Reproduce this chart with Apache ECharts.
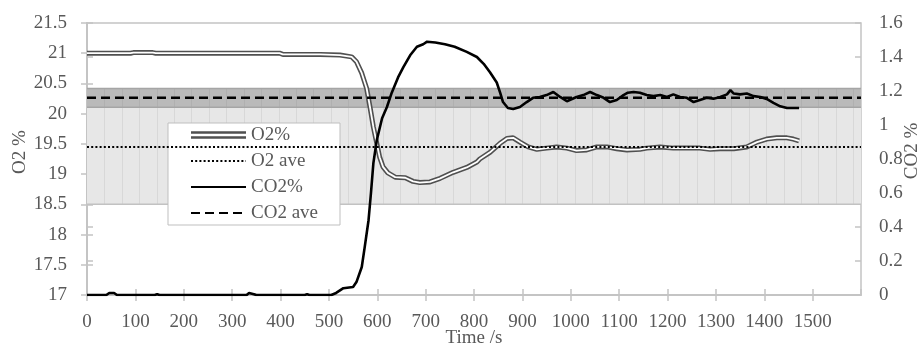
<!DOCTYPE html>
<html>
<head>
<meta charset="utf-8">
<script src="https://cdn.jsdelivr.net/npm/echarts@6/dist/echarts.min.js"></script>
<style>
  html, body { margin: 0; padding: 0; background: #fff; }
  #chart { width: 922px; height: 345px; }
</style>
</head>
<body>
<div id="chart"></div>
<script>
// Oxygen concentration (%) over time (s)
const o2Times = [0, 90, 96, 136, 142, 398, 405, 482, 523, 547, 557, 568, 578, 585, 592, 599, 605, 612, 622, 637, 658, 674, 688, 709, 730, 757, 785, 806, 812, 833, 854, 868, 881, 895, 912, 930, 950, 971, 992, 1012, 1033, 1054, 1075, 1095, 1116, 1143, 1157, 1185, 1212, 1240, 1267, 1288, 1309, 1337, 1364, 1385, 1405, 1426, 1447, 1460, 1472];
const o2Values = [21.00, 21.00, 21.01, 21.01, 21.00, 21.00, 20.98, 20.98, 20.97, 20.94, 20.86, 20.67, 20.42, 20.11, 19.78, 19.51, 19.28, 19.12, 19.02, 18.95, 18.94, 18.88, 18.86, 18.87, 18.93, 19.03, 19.11, 19.20, 19.25, 19.36, 19.51, 19.59, 19.60, 19.53, 19.45, 19.41, 19.43, 19.45, 19.43, 19.39, 19.40, 19.45, 19.45, 19.42, 19.40, 19.41, 19.43, 19.45, 19.43, 19.43, 19.43, 19.41, 19.42, 19.42, 19.45, 19.53, 19.58, 19.60, 19.60, 19.58, 19.55];

// Carbon dioxide concentration (%) over time (s)
const co2Times = [0, 40, 46, 56, 62, 140, 145, 150, 330, 335, 345, 350, 450, 455, 460, 505, 515, 530, 550, 557, 568, 574, 582, 587, 592, 599, 610, 620, 630, 643, 654, 668, 682, 695, 703, 720, 740, 760, 785, 806, 820, 833, 847, 854, 860, 870, 881, 895, 909, 922, 936, 950, 964, 978, 992, 1012, 1026, 1040, 1054, 1068, 1081, 1095, 1109, 1118, 1130, 1143, 1157, 1171, 1185, 1199, 1212, 1226, 1240, 1254, 1267, 1281, 1295, 1309, 1323, 1330, 1337, 1350, 1364, 1378, 1392, 1405, 1419, 1433, 1447, 1460, 1472];
const co2Values = [0, 0, 0.012, 0.012, 0, 0, 0.005, 0, 0, 0.012, 0.005, 0, 0, 0.004, 0, 0, 0.012, 0.040, 0.047, 0.076, 0.165, 0.28, 0.44, 0.60, 0.776, 0.91, 1.04, 1.106, 1.19, 1.28, 1.34, 1.41, 1.46, 1.475, 1.49, 1.485, 1.475, 1.46, 1.43, 1.40, 1.36, 1.31, 1.25, 1.19, 1.135, 1.10, 1.094, 1.106, 1.135, 1.16, 1.165, 1.176, 1.194, 1.165, 1.14, 1.165, 1.176, 1.194, 1.176, 1.16, 1.135, 1.147, 1.176, 1.19, 1.194, 1.19, 1.176, 1.17, 1.176, 1.165, 1.18, 1.165, 1.16, 1.135, 1.147, 1.16, 1.155, 1.165, 1.18, 1.205, 1.185, 1.18, 1.185, 1.17, 1.165, 1.153, 1.13, 1.11, 1.10, 1.10, 1.10];

// Averages and reference bands
const o2Average = 19.45;
const co2Average = 1.16;
const o2Band = [18.5, 20.11];   // O2 % scale
const co2Band = [1.105, 1.215]; // CO2 % scale

// Axis ranges
const timeRange = [0, 1600, 100];
const o2Range = [17, 21.5, 0.5];
const co2Range = [0, 1.6, 0.2];

// Legend entries
const legendNames = ['O2%', 'O2 ave', 'CO2%', 'CO2 ave'];

// ---- styling ----
const FONT = "'Liberation Serif', 'Times New Roman', serif";
const TEXT = '#595959';
const AXIS = '#c4c4c4';
const O2_EDGE = '#505050';
const stripeStep = 36; // width of the shaded columns, in seconds

const zip = (xs, ys) => xs.map((x, i) => [x, ys[i]]);
const plain = v => String(v);

function bandRenderer(fill, edge, stripe) {
  return function (params, api) {
    const t0 = api.value(0), t1 = api.value(1), lo = api.value(2), hi = api.value(3);
    const a = api.coord([t0, hi]);
    const b = api.coord([t1, lo]);
    const children = [{
      type: 'rect',
      shape: { x: a[0], y: a[1], width: b[0] - a[0], height: b[1] - a[1] },
      style: { fill: fill, stroke: null }
    }];
    for (let t = t0 + stripeStep; t < t1; t += stripeStep) {
      const p = api.coord([t, lo]);
      const x = Math.round(p[0]) + 0.5;
      children.push({
        type: 'line',
        shape: { x1: x, y1: a[1], x2: x, y2: b[1] },
        style: { stroke: stripe, lineWidth: 1 }
      });
    }
    children.push({ type: 'line', shape: { x1: a[0], y1: a[1], x2: b[0], y2: a[1] }, style: { stroke: edge, lineWidth: 1.5 } });
    children.push({ type: 'line', shape: { x1: a[0], y1: b[1], x2: b[0], y2: b[1] }, style: { stroke: edge, lineWidth: 1.5 } });
    return { type: 'group', children: children };
  };
}

const labelStyle = { fontFamily: FONT, fontSize: 19, color: TEXT, formatter: plain };
const nameStyle = { fontFamily: FONT, fontSize: 19, color: TEXT };
// line-only legend keys: hide the marker drawn in the middle of the key
const noMarker = { color: 'transparent', borderWidth: 0, opacity: 0 };

const chart = echarts.init(document.getElementById('chart'), null, { renderer: 'canvas' });

chart.setOption({
  animation: false,
  backgroundColor: '#ffffff',
  grid: {
    left: 87, right: 61, top: 23, bottom: 50,
    containLabel: false, outerBoundsMode: 'none',
    show: true, borderColor: AXIS, borderWidth: 1.5, backgroundColor: 'transparent'
  },
  legend: {
    orient: 'vertical',
    left: 168, top: 123,
    padding: [2, 22, 2, 22],
    itemWidth: 55, itemHeight: 12, itemGap: 6,
    backgroundColor: '#ffffff', borderColor: '#bfbfbf', borderWidth: 1,
    selectedMode: false,
    textStyle: { fontFamily: FONT, fontSize: 19, color: TEXT, lineHeight: 20 },
    data: [
      { name: legendNames[0], icon: 'path://M0,0H60V8H0Z M0,2.6V5.4H60V2.6Z', itemStyle: { color: O2_EDGE, borderWidth: 0 } },
      { name: legendNames[1], itemStyle: noMarker },
      { name: legendNames[2], itemStyle: noMarker },
      { name: legendNames[3], itemStyle: noMarker }
    ]
  },
  xAxis: [
    {
      type: 'value', min: timeRange[0], max: timeRange[1], interval: timeRange[2],
      name: 'Time /s', nameLocation: 'middle', nameGap: 34, nameMoveOverlap: false,
      nameTextStyle: nameStyle,
      axisLine: { lineStyle: { color: AXIS, width: 2 } },
      axisTick: { show: true, inside: false, length: 6, lineStyle: { color: AXIS, width: 1.5 } },
      axisLabel: Object.assign({ margin: 18, showMaxLabel: false }, labelStyle),
      splitLine: { show: false }
    },
    {
      type: 'value', min: timeRange[0], max: timeRange[1], interval: timeRange[2], position: 'bottom',
      axisLine: { show: false },
      axisTick: { show: true, inside: true, length: 6, lineStyle: { color: AXIS, width: 1.5 } },
      axisLabel: { show: false }, splitLine: { show: false }
    }
  ],
  yAxis: [
    {
      type: 'value', position: 'left', min: o2Range[0], max: o2Range[1], interval: o2Range[2],
      name: 'O2 %', nameLocation: 'middle', nameGap: 57, nameRotate: 90, nameMoveOverlap: false,
      nameTextStyle: Object.assign({ padding: [0, 0, 0, 14] }, nameStyle),
      axisLine: { show: true, lineStyle: { color: AXIS, width: 2 } },
      axisTick: { show: true, inside: false, length: 6, lineStyle: { color: AXIS, width: 1.5 } },
      axisLabel: Object.assign({ margin: 20 }, labelStyle),
      splitLine: { show: false }
    },
    {
      type: 'value', position: 'right', min: co2Range[0], max: co2Range[1], interval: co2Range[2],
      name: 'CO2 %', nameLocation: 'middle', nameGap: 42, nameRotate: 90, nameMoveOverlap: false,
      nameTextStyle: Object.assign({ padding: [0, 0, 0, 16] }, nameStyle),
      axisLine: { show: true, lineStyle: { color: AXIS, width: 2 } },
      axisTick: { show: true, inside: false, length: 6, lineStyle: { color: AXIS, width: 1.5 } },
      axisLabel: Object.assign({ margin: 18 }, labelStyle),
      splitLine: { show: false }
    },
    {
      type: 'value', position: 'left', min: o2Range[0], max: o2Range[1], interval: o2Range[2],
      axisLine: { show: false },
      axisTick: { show: true, inside: true, length: 6, lineStyle: { color: AXIS, width: 1.5 } },
      axisLabel: { show: false }, splitLine: { show: false }
    },
    {
      type: 'value', position: 'right', min: co2Range[0], max: co2Range[1], interval: co2Range[2],
      axisLine: { show: false },
      axisTick: { show: true, inside: true, length: 6, lineStyle: { color: AXIS, width: 1.5 } },
      axisLabel: { show: false }, splitLine: { show: false }
    }
  ],
  series: [
    {
      name: 'O2 band', type: 'custom', xAxisIndex: 0, yAxisIndex: 0, z: 1, silent: true, clip: true,
      renderItem: bandRenderer('#e7e7e7', '#c2c2c2', '#d8d8d8'),
      data: [[timeRange[0], timeRange[1], o2Band[0], o2Band[1]]]
    },
    {
      name: 'CO2 band', type: 'custom', xAxisIndex: 0, yAxisIndex: 1, z: 1, silent: true, clip: true,
      renderItem: bandRenderer('#bababa', '#a5a5a5', '#b0b0b0'),
      data: [[timeRange[0], timeRange[1], co2Band[0], co2Band[1]]]
    },
    {
      name: 'O2%', type: 'line', xAxisIndex: 0, yAxisIndex: 0, z: 3,
      symbol: 'none', showSymbol: false,
      itemStyle: { color: O2_EDGE },
      lineStyle: { color: O2_EDGE, width: 5 },
      data: zip(o2Times, o2Values)
    },
    {
      name: 'O2% core', type: 'line', xAxisIndex: 0, yAxisIndex: 0, z: 3,
      symbol: 'none', showSymbol: false,
      lineStyle: { color: '#ffffff', width: 1.8 },
      data: zip(o2Times, o2Values)
    },
    {
      name: 'O2 ave', type: 'line', xAxisIndex: 0, yAxisIndex: 0, z: 4,
      symbol: 'none', showSymbol: false,
      itemStyle: { color: '#000000' },
      lineStyle: { color: '#000000', width: 2, type: [2, 2.2] },
      data: [[timeRange[0], o2Average], [timeRange[1], o2Average]]
    },
    {
      name: 'CO2%', type: 'line', xAxisIndex: 0, yAxisIndex: 1, z: 5,
      symbol: 'none', showSymbol: false,
      itemStyle: { color: '#000000' },
      lineStyle: { color: '#000000', width: 2.6 },
      data: zip(co2Times, co2Values)
    },
    {
      name: 'CO2 ave', type: 'line', xAxisIndex: 0, yAxisIndex: 1, z: 5,
      symbol: 'none', showSymbol: false,
      itemStyle: { color: '#000000' },
      lineStyle: { color: '#000000', width: 2.6, type: [9, 5] },
      data: [[timeRange[0], co2Average], [timeRange[1], co2Average]]
    }
  ]
});
</script>
</body>
</html>
